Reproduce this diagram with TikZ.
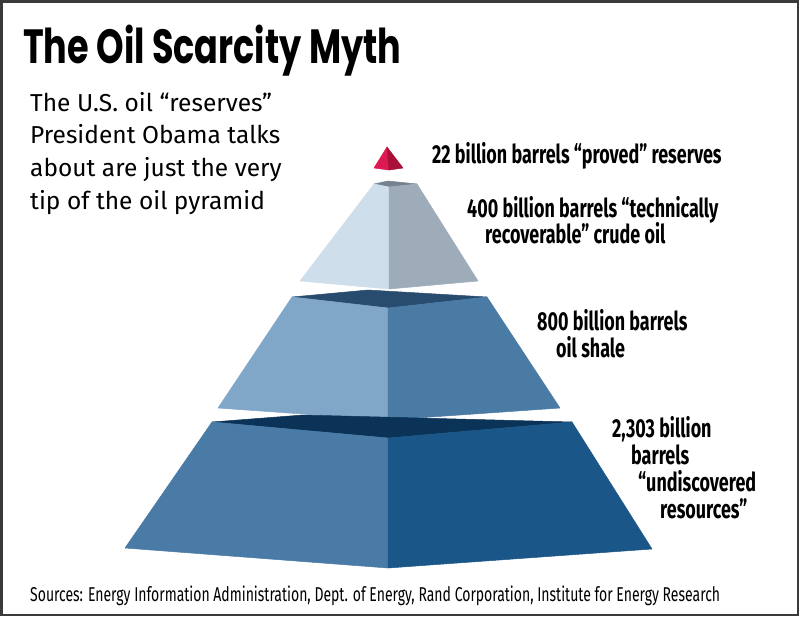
\documentclass[tikz,border=0pt]{standalone}
\usepackage{fontspec}
\setmainfont{Fira Sans}
\newfontfamily\titlefont[FakeStretch=0.73]{Poppins}
\newfontfamily\condfont[FakeStretch=0.69]{Fira Sans}
\newfontfamily\notefont[FakeStretch=0.70]{Fira Sans}
\usepackage{tikz}
\definecolor{frame}{RGB}{58,58,58}
\definecolor{tipl}{RGB}{222,24,82}
\definecolor{tipr}{RGB}{168,16,56}
\definecolor{topl}{RGB}{207,222,235}
\definecolor{topr}{RGB}{158,172,186}
\definecolor{topt}{RGB}{118,130,142}
\definecolor{midl}{RGB}{128,166,200}
\definecolor{midr}{RGB}{74,123,165}
\definecolor{midt}{RGB}{40,76,109}
\definecolor{botl}{RGB}{74,123,166}
\definecolor{botr}{RGB}{26,86,136}
\definecolor{bott}{RGB}{11,51,88}

\begin{document}
\begin{tikzpicture}[x=1pt,y=-1pt,
  face/.style={line width=0.5pt,line join=round},
  lbl/.style={anchor=base west,inner sep=0pt,font=\condfont\bfseries\fontsize{26}{28}\selectfont},
  intro/.style={anchor=base west,inner sep=0pt,font=\fontsize{24.5}{30}\selectfont}]
  \useasboundingbox (0,0) rectangle (799,616);
  \fill[white] (0,0) rectangle (799,616);
  \draw[frame,line width=2.5pt] (1.25,1.25) rectangle (797.75,614.75);
  % tip
  \coordinate (ta) at (387,147);\coordinate (tl) at (374,168);
  \coordinate (tf) at (389,170);\coordinate (tr) at (403,168);
  \filldraw[face,tipl] (ta)--(tl)--(tf)--cycle;
  \filldraw[face,tipr] (ta)--(tf)--(tr)--cycle;
  % top tier
  \coordinate (uL) at (374,184);\coordinate (uB) at (388,181);
  \coordinate (uR) at (417,184);\coordinate (uF) at (389,187);
  \coordinate (uBL) at (300,281);\coordinate (uBC) at (389,289);
  \coordinate (uBR) at (478,281);
  \filldraw[face,topt] (uL)--(uB)--(uR)--(uF)--cycle;
  \filldraw[face,topl] (uL)--(uF)--(uBC)--(uBL)--cycle;
  \filldraw[face,topr] (uF)--(uR)--(uBR)--(uBC)--cycle;
  % middle tier
  \coordinate (mL) at (292,297);\coordinate (mB) at (368,290);
  \coordinate (mR) at (487,297);\coordinate (mF) at (388,308);
  \coordinate (mBL) at (218,408);\coordinate (mBC) at (388,420);
  \coordinate (mBR) at (560,408);
  \filldraw[face,midt] (mL)--(mB)--(mR)--(mF)--cycle;
  \filldraw[face,midl] (mL)--(mF)--(mBC)--(mBL)--cycle;
  \filldraw[face,midr] (mF)--(mR)--(mBR)--(mBC)--cycle;
  % bottom tier
  \coordinate (lL) at (212,422);\coordinate (lB) at (303,415);
  \coordinate (lR) at (572,422);\coordinate (lF) at (388,438);
  \coordinate (lBL) at (125,548);\coordinate (lBC) at (388,568);
  \coordinate (lBR) at (652,549);
  \filldraw[face,bott] (lL)--(lB)--(lR)--(lF)--cycle;
  \filldraw[face,botl] (lL)--(lF)--(lBC)--(lBL)--cycle;
  \filldraw[face,botr] (lF)--(lR)--(lBR)--(lBC)--cycle;
  % texts
  \node[anchor=base west,inner sep=0pt,font=\titlefont\bfseries\fontsize{48}{50}\selectfont]
    (title) at (23,63) {The Oil Scarcity Myth};
  \node[intro] (introA) at (30,111) {The U.S. oil “reserves”};
  \node[intro] (introB) at (30,143.5) {President Obama talks};
  \node[intro] (introC) at (30,176.5) {about are just the very};
  \node[intro] (introD) at (30,209) {tip of the oil pyramid};
  \node[lbl] (provedA) at (432,163) {22 billion barrels “proved” reserves};
  \node[lbl] (techA) at (467,217) {400 billion barrels “technically};
  \node[lbl] (techB) at (485,243) {recoverable” crude oil};
  \node[lbl] (shaleA) at (537,330) {800 billion barrels};
  \node[lbl] (shaleB) at (556,357) {oil shale};
  \node[lbl] (undiscA) at (612,437) {2,303 billion};
  \node[lbl] (undiscB) at (631,464) {barrels};
  \node[lbl] (undiscC) at (638,491) {“undiscovered};
  \node[lbl] (undiscD) at (660,518) {resources”};
  \node[anchor=base west,inner sep=0pt,font=\notefont\fontsize{20}{22}\selectfont]
    (sources) at (30,601) {Sources: Energy Information Administration, Dept. of Energy, Rand Corporation, Institute for Energy Research};
\end{tikzpicture}
\end{document}
